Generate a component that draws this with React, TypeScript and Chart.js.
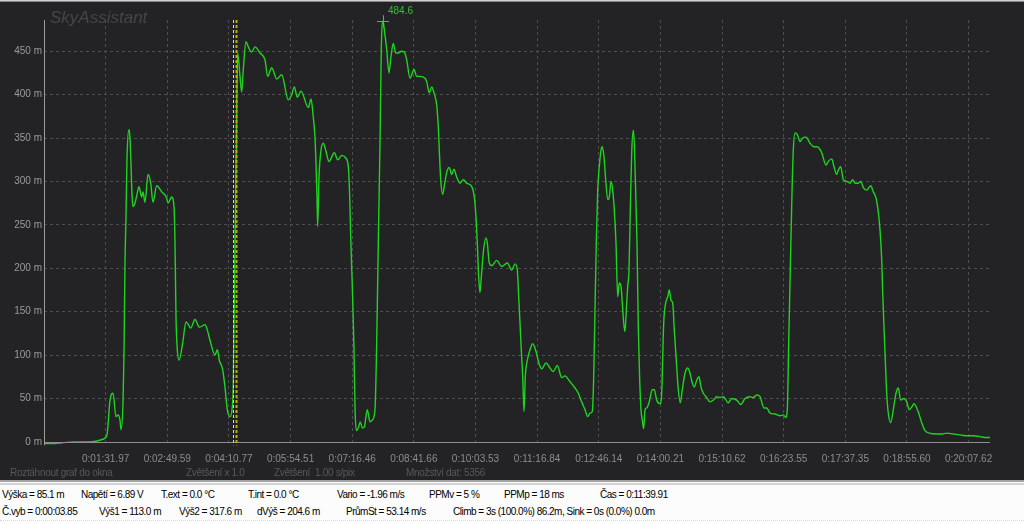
import React, { useEffect, useRef } from "react";
import { Chart, registerables } from "chart.js";

Chart.register(...registerables);

// ---- data (sample index along the flight, altitude in metres) ----
const sampleIdx: number[] = [
  0, 11, 18, 31, 44, 53, 59, 63, 66, 69, 72, 74, 76, 77, 79, 80, 81, 82, 83, 85, 86, 87, 88, 89, 91, 93, 95, 97.7, 99, 101,
  104, 106.7, 109, 112.7, 117.7, 122.7, 124, 127.7, 130, 131, 132, 133.3, 135, 138.7, 142, 144.3, 146.7, 151, 155.3, 161,
  163.3, 166, 171, 173.3, 175.3, 178.7, 181, 183.3, 186, 188, 189.3, 191, 192.7, 193.7, 196, 197.7, 199.3, 202, 204.3, 207.7,
  211, 216, 221, 223.7, 227.7, 232.7, 237.7, 244.3, 247.7, 250.3, 253.3, 257, 264.3, 267, 269.3, 271, 272, 273, 273.7, 275,
  277, 279.3, 281.7, 285, 290.3, 293.7, 297.7, 301.7, 304.3, 305.7, 306.7, 308, 309, 310, 311, 312.3, 314.3, 316.3, 318.3, 320.3,
  323.3, 326, 328.3, 331, 332.7, 334.3, 336, 337.3, 339, 340.3, 342.7, 345, 347, 349.3, 351.7, 354.3, 357.7, 360.3, 362.7, 366,
  370, 372.7, 376, 381, 382.7, 385.3, 387.7, 390, 392.7, 394.3, 395.3, 396.7, 398.7, 400.7, 403.3, 405.3, 407.7, 410, 412.7, 416,
  419.3, 422.7, 427.7, 430.3, 432, 433.3, 434.7, 436, 437.3, 439.3, 441.7, 443.3, 445.3, 447.7, 452.7, 457.7, 463.3, 467.7, 471, 473.3,
  474.7, 476, 477.3, 478.7, 480, 481.3, 483.3, 486, 488.7, 492, 495.3, 497.7, 502, 506, 509.3, 513.3, 517.7, 521, 524.3, 527,
  531, 534.3, 537.7, 541, 543.7, 546, 548.3, 549.7, 551, 552.3, 553.7, 555.3, 557, 558.3, 560, 561.7, 563.7, 565.3, 567, 568.7,
  570.3, 572, 573.7, 575.3, 577, 578.3, 579.7, 581, 582.3, 583.7, 585, 586.3, 587.7, 589.3, 590.3, 591.7, 593, 594.3, 595.7, 597,
  598.3, 599.7, 601, 602.7, 605, 608.3, 610.3, 612.7, 616, 617.7, 619.7, 621.7, 623.7, 625.3, 627, 628.7, 630.3, 632.3, 634.3, 636.3,
  638.3, 641, 643.7, 646, 648.3, 650.3, 652.7, 655, 657, 659.3, 662.7, 666, 669.3, 672.7, 676, 679.3, 684.3, 687.7, 692.7, 696.7,
  701, 706, 709.3, 712.7, 716, 720, 722.7, 726, 731, 736, 739.3, 741.7, 743.3, 744.7, 746, 747, 748, 749.3, 751, 753.3,
  756, 758.7, 762, 766, 770, 773.3, 777.7, 782, 784.3, 787.7, 790, 792.7, 794.3, 796.7, 799.3, 802.7, 806, 808.7, 811, 814.3,
  816.7, 819.3, 822.7, 826.7, 829.3, 832, 834.3, 836, 837.7, 838.7, 840, 841.3, 842.7, 844.3, 846.7, 849.3, 852, 854.3, 856.7, 860,
  862.7, 865.3, 867.7, 870, 872.7, 875.3, 877.7, 881, 885.3, 892.7, 897.7, 902.7, 909.3, 916, 922.7, 929.3, 936, 942.7, 946,
];

const altitudeM: number[] = [
  -2, -2, -1, 0, 0, 1, 3, 8, 48, 56, 29, 31, 25, 14, 45, 102, 206, 260, 327, 360, 350, 320, 285, 271, 275, 285, 294, 282, 288, 276,
  308, 298, 276, 295, 288, 281, 275, 282, 271, 229, 144, 106, 94, 114, 138, 135, 131, 141, 132, 135,
  129, 117, 100, 106, 94, 83, 63, 37, 29, 37, 68, 229, 382, 448, 421, 403, 429, 461, 455, 449,
  455, 448, 440, 421, 431, 418, 423, 394, 400, 409, 397, 404, 385, 395, 374, 351, 321, 282, 248, 305,
  336, 344, 336, 323, 333, 325, 330, 327, 317, 282, 236, 190, 152, 106, 40, 13, 16, 23, 16, 17,
  37, 23, 25, 37, 114, 229, 344, 452, 484.6, 475, 452, 425, 444, 459, 448, 448, 450, 449, 440, 419,
  429, 421, 421, 419, 415, 402, 409, 402, 388, 363, 336, 302, 285, 298, 313, 316, 308, 314, 305, 298,
  302, 298, 294, 282, 259, 229, 190, 172, 190, 218, 235, 229, 206, 203, 209, 202, 206, 198, 205, 198,
  167, 137, 106, 75, 35, 75, 94, 106, 113, 104, 89, 84, 91, 85, 81, 88, 74, 76, 72, 68,
  62, 56, 46, 37, 29, 33, 35, 75, 152, 229, 290, 317, 336, 340, 328, 302, 279, 282, 300, 290,
  267, 229, 167, 183, 179, 160, 137, 127, 152, 179, 198, 267, 333, 359, 344, 287, 229, 132, 71, 37,
  25, 15, 37, 39, 45, 60, 60, 48, 44, 56, 137, 160, 167, 175, 163, 160, 129, 94, 60, 45,
  60, 79, 85, 79, 68, 63, 71, 75, 63, 56, 51, 46, 48, 52, 51, 52, 45, 50, 48, 43,
  50, 52, 51, 54, 52, 39, 39, 33, 32, 30, 31, 28, 37, 114, 183, 236, 287, 336, 356, 354,
  346, 350, 351, 344, 340, 340, 333, 319, 323, 326, 317, 308, 313, 317, 302, 300, 298, 302, 298, 298,
  300, 293, 290, 295, 288, 281, 265, 244, 210, 172, 132, 94, 56, 33, 22, 37, 56, 62, 48, 50,
  46, 37, 40, 44, 39, 31, 22, 13, 10, 9, 9, 10, 9, 8, 7, 7, 6, 5, 5,
];

const timeLabels: string[] = [
  "0:01:31.97", "0:02:49.59", "0:04:10.77", "0:05:54.51", "0:07:16.46", "0:08:41.66", "0:10:03.53",
  "0:11:16.84", "0:12:46.14", "0:14:00.21", "0:15:10.62", "0:16:23.55", "0:17:37.35", "0:18:55.60", "0:20:07.62",
];
const samplesPerTick = 61.64;
const sampleCount = 946;
const yTickValues: number[] = [0, 50, 100, 150, 200, 250, 300, 350, 400, 450];
const yMin = -4;
const yMax = 486;
const cursorSamples: number[] = [188.5, 192];

const statusRow1: [string, number][] = [
  ["Výška = 85.1 m", 2], ["Napětí = 6.89 V", 81], ["T.ext = 0.0 °C", 161], ["T.int = 0.0 °C", 248],
  ["Vario = -1.96 m/s", 337], ["PPMv = 5 %", 429], ["PPMp = 18 ms", 504], ["Čas = 0:11:39.91", 600],
];
const statusRow2: [string, number][] = [
  ["Č.vyb = 0:00:03.85", 2], ["Výš1 = 113.0 m", 99], ["Výš2 = 317.6 m", 179], ["dVýš = 204.6 m", 257],
  ["PrůmSt = 53.14 m/s", 346], ["Climb = 3s (100.0%) 86.2m, Sink = 0s (0.0%) 0.0m", 453],
];
const infoTexts: [string, number][] = [
  ["Roztáhnout graf do okna", 10], ["Zvětšení x 1.0", 186], ["Zvětšení  1.00 s/pix", 274], ["Množství dat: 5356", 406],
];

const FONT = "'Liberation Sans', Arial, sans-serif";
const BG = "#232326";
const LINE = "#1fd41f";

const decorPlugin = {
  id: "decor",
  beforeDraw(chart: any) {
    const { ctx, width, height } = chart;
    ctx.save();
    ctx.fillStyle = BG;
    ctx.fillRect(0, 0, width, height);
    ctx.fillStyle = "#cfcfcf";
    ctx.fillRect(0, 0, width, 1);
    ctx.fillStyle = "#8a8a8a";
    ctx.fillRect(0, 1, width, 1);
    ctx.font = `italic 17px ${FONT}`;
    ctx.fillStyle = "#46464a";
    ctx.textBaseline = "alphabetic";
    ctx.fillText("SkyAssistant", 50, 23);
    ctx.font = `10px ${FONT}`;
    ctx.fillStyle = "#58585b";
    ctx.textBaseline = "middle";
    try { (ctx as any).letterSpacing = "-0.3px"; } catch (e) { /* ignore */ }
    for (const [t, x] of infoTexts) ctx.fillText(t, x, 473);
    try { (ctx as any).letterSpacing = "0px"; } catch (e) { /* ignore */ }
    ctx.restore();
  },
  afterDatasetsDraw(chart: any) {
    const { ctx, chartArea, scales } = chart;
    const xs = scales.x;
    const ys = scales.y;
    ctx.save();
    // axes
    const y0 = Math.round(ys.getPixelForValue(0)) + 0.5;
    ctx.strokeStyle = "#8e8e8e";
    ctx.lineWidth = 1;
    ctx.beginPath();
    ctx.moveTo(chartArea.left, y0);
    ctx.lineTo(chartArea.right, y0);
    ctx.stroke();
    ctx.strokeStyle = "#9c9c9c";
    ctx.beginPath();
    ctx.moveTo(chartArea.left + 0.5, chartArea.top);
    ctx.lineTo(chartArea.left + 0.5, chartArea.bottom);
    ctx.stroke();
    // cursor markers
    cursorSamples.forEach((s, i) => {
      const px = Math.round(xs.getPixelForValue(s)) + 0.5;
      ctx.strokeStyle = i === 0 ? "#f2f200" : "#b9b300";
      ctx.lineWidth = i === 0 ? 1 : 2;
      ctx.setLineDash([3, 2]);
      ctx.beginPath();
      ctx.moveTo(px, chartArea.top);
      ctx.lineTo(px, chartArea.bottom);
      ctx.stroke();
    });
    ctx.setLineDash([]);
    // peak marker
    let pi = 0;
    altitudeM.forEach((v, i) => { if (v > altitudeM[pi]) pi = i; });
    const px = xs.getPixelForValue(sampleIdx[pi]);
    const py = ys.getPixelForValue(altitudeM[pi]);
    ctx.strokeStyle = "#2bd42b";
    ctx.lineWidth = 1;
    ctx.beginPath();
    ctx.moveTo(px - 6, Math.round(py) + 0.5);
    ctx.lineTo(px + 6, Math.round(py) + 0.5);
    ctx.moveTo(Math.round(px) + 0.5, py - 6);
    ctx.lineTo(Math.round(px) + 0.5, py + 6);
    ctx.stroke();
    ctx.font = `10px ${FONT}`;
    ctx.fillStyle = "#2bc42b";
    ctx.textBaseline = "middle";
    ctx.textAlign = "left";
    ctx.fillText(altitudeM[pi].toFixed(1), px + 5, py - 10);
    ctx.restore();
  },
};

function ChartCanvas() {
  const ref = useRef<HTMLCanvasElement | null>(null);
  useEffect(() => {
    if (!ref.current) return;
    const points = sampleIdx.map((x, i) => ({ x, y: altitudeM[i] }));
    const chart = new Chart(ref.current, {
      type: "line",
      data: {
        datasets: [
          {
            data: points,
            borderColor: LINE,
            borderWidth: 1.4,
            pointRadius: 0,
            cubicInterpolationMode: "monotone",
            fill: false,
          },
        ],
      },
      options: {
        animation: false,
        responsive: false,
        maintainAspectRatio: false,
        layout: { padding: { top: 20, right: 34, left: 0, bottom: 0 } },
        plugins: { legend: { display: false }, tooltip: { enabled: false } },
        scales: {
          x: {
            type: "linear",
            min: 0,
            max: sampleCount,
            afterBuildTicks: (s: any) => {
              s.ticks = timeLabels.map((_, i) => ({ value: (i + 1) * samplesPerTick }));
            },
            afterFit: (s: any) => {
              s.height = 34.7;
            },
            ticks: {
              autoSkip: false,
              maxRotation: 0,
              minRotation: 0,
              padding: 8,
              color: "#8c8c8c",
              font: { size: 10, family: FONT },
              callback: (_v: any, i: number) => timeLabels[i],
            },
            grid: { color: "#4e4e52", drawTicks: false, lineWidth: 1 },
            border: { display: false, dash: [3, 3] },
          },
          y: {
            type: "linear",
            min: yMin,
            max: yMax,
            afterBuildTicks: (s: any) => {
              s.ticks = yTickValues.map((v) => ({ value: v }));
            },
            afterFit: (s: any) => {
              s.width = 44;
            },
            ticks: {
              padding: 2,
              color: "#9a9a9a",
              font: { size: 10, family: FONT },
              callback: (v: any) => `${v} m`,
            },
            grid: {
              color: (c: any) => (c.tick && c.tick.value === 0 ? "rgba(0,0,0,0)" : "#4e4e52"),
              drawTicks: false,
              lineWidth: 1,
            },
            border: { display: false, dash: [3, 3] },
          },
        },
      },
      plugins: [decorPlugin],
    } as any);
    return () => chart.destroy();
  }, []);
  return <canvas ref={ref} width={1024} height={480} style={{ display: "block", width: 1024, height: 480 }} />;
}

export default function App() {
  const rowStyle = (top: number): React.CSSProperties => ({ position: "absolute", top, left: 0, width: 1024, height: 14 });
  const txt = (x: number): React.CSSProperties => ({
    position: "absolute",
    left: x,
    top: 0,
    whiteSpace: "pre",
    fontFamily: FONT,
    fontSize: 10,
    letterSpacing: "-0.5px",
    lineHeight: "14px",
    color: "#000",
  });
  return (
    <div style={{ position: "fixed", left: 0, top: 0, width: 1024, height: 523, background: "#fcfcfc", overflow: "hidden" }}>
      <ChartCanvas />
      <div style={{ position: "absolute", top: 480, left: 0, width: 1024, height: 2, background: "#a4a4a4" }} />
      <div style={{ position: "absolute", top: 483, left: 0, width: 1024, height: 2, background: "#d2d2d2" }} />
      <div style={rowStyle(488)}>
        {statusRow1.map(([t, x]) => (
          <span key={t} style={txt(x)}>{t}</span>
        ))}
      </div>
      <div style={rowStyle(505)}>
        {statusRow2.map(([t, x]) => (
          <span key={t} style={txt(x)}>{t}</span>
        ))}
      </div>
      <div style={{ position: "absolute", top: 520, left: 0, width: 1024, height: 0, borderTop: "1px dotted #d8d8d8" }} />
    </div>
  );
}
